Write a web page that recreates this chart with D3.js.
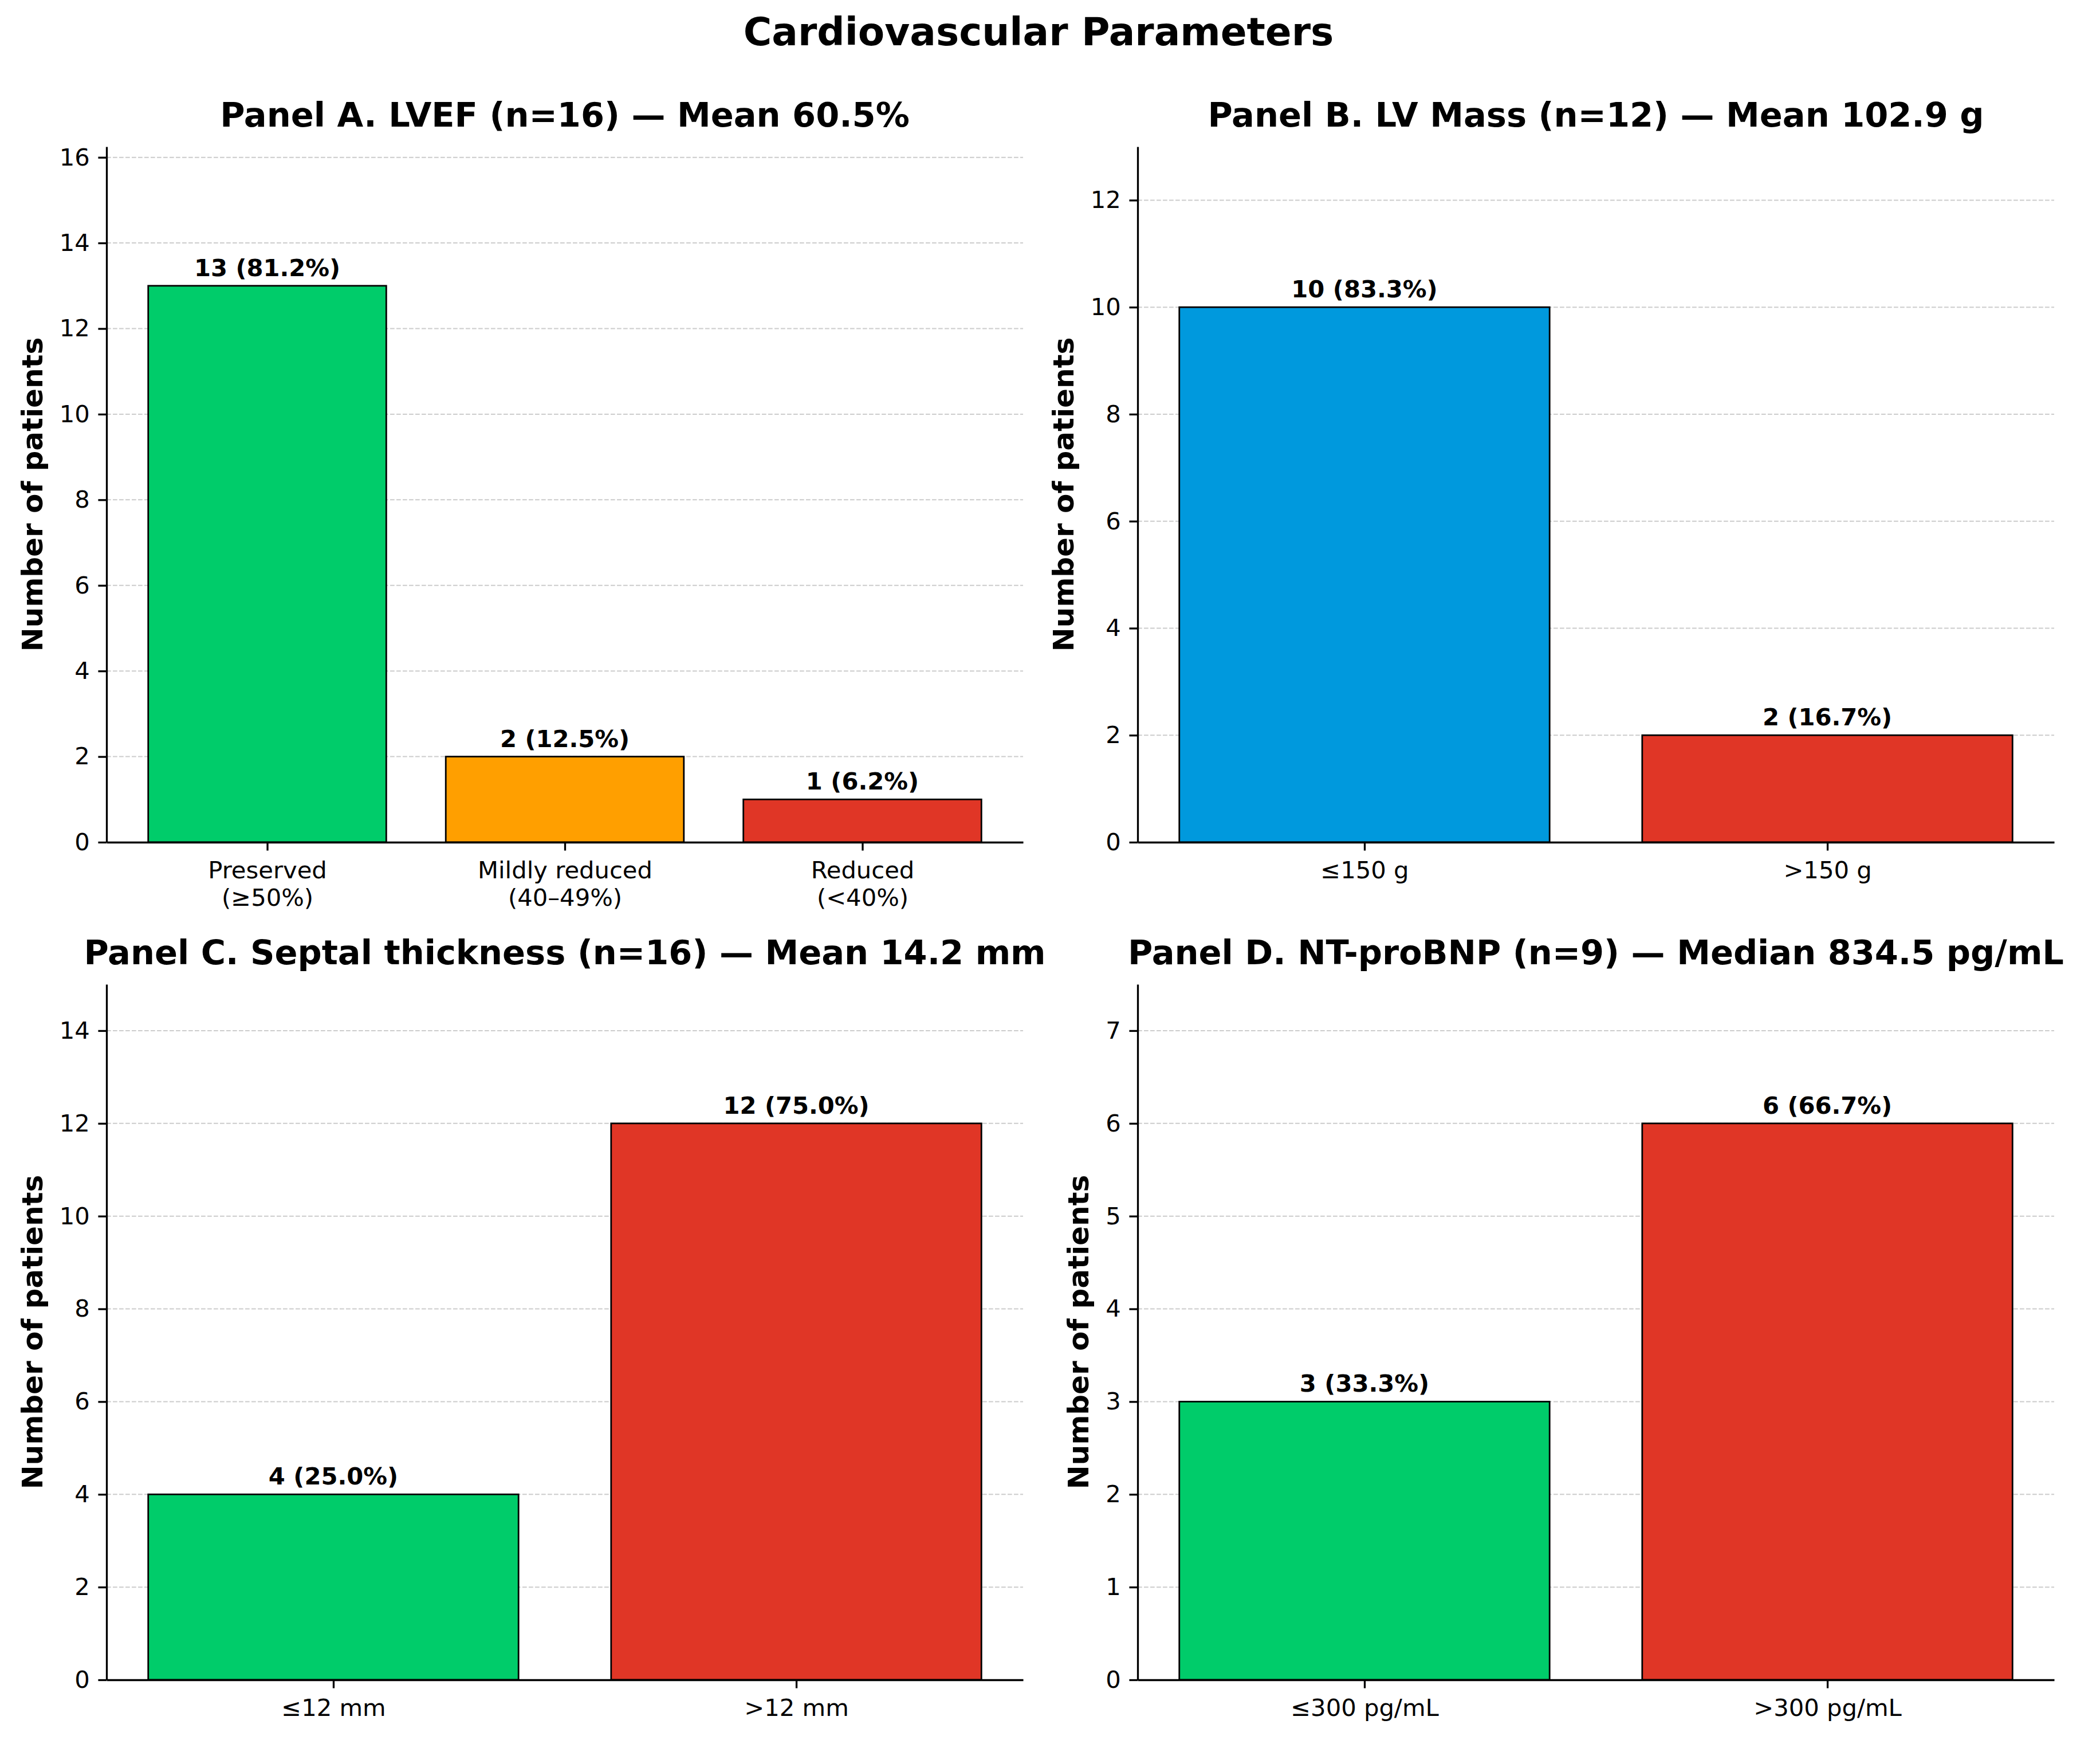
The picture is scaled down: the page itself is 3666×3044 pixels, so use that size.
<!DOCTYPE html>
<html>
<head>
<meta charset="utf-8">
<script src="https://cdn.jsdelivr.net/npm/d3@7"></script>
<style>
  body { margin: 0; background: #fff; }
  text { font-family: "DejaVu Sans", sans-serif; fill: #000; }
</style>
</head>
<body>
<div id="wrapper"></div>
<script>

//..................................................
// 1. data

const figureTitle = "Cardiovascular Parameters"

const panelTitles = [
  "Panel A. LVEF (n=16) — Mean 60.5%",
  "Panel B. LV Mass (n=12) — Mean 102.9 g",
  "Panel C. Septal thickness (n=16) — Mean 14.2 mm",
  "Panel D. NT-proBNP (n=9) — Median 834.5 pg/mL",
]

const lvefCategories = ["Preserved\n(≥50%)", "Mildly reduced\n(40–49%)", "Reduced\n(<40%)"]
const lvefCounts = [13, 2, 1]
const lvefLabels = ["13 (81.2%)", "2 (12.5%)", "1 (6.2%)"]

const massCategories = ["≤150 g", ">150 g"]
const massCounts = [10, 2]
const massLabels = ["10 (83.3%)", "2 (16.7%)"]

const septalCategories = ["≤12 mm", ">12 mm"]
const septalCounts = [4, 12]
const septalLabels = ["4 (25.0%)", "12 (75.0%)"]

const bnpCategories = ["≤300 pg/mL", ">300 pg/mL"]
const bnpCounts = [3, 6]
const bnpLabels = ["3 (33.3%)", "6 (66.7%)"]

// y axis upper limits and tick steps
const yLimits = [16.25, 13, 15, 7.5]
const yTickSteps = [2, 2, 2, 1]

const yAxisTitle = "Number of patients"

//..................................................
// 2. dimensions & styles

const colors = {
  green: "#00cc6a",
  orange: "#ff9f00",
  red: "#e03626",
  blue: "#0099dd",
}

const panels = [
  { categories: lvefCategories, counts: lvefCounts, labels: lvefLabels, fills: [colors.green, colors.orange, colors.red] },
  { categories: massCategories, counts: massCounts, labels: massLabels, fills: [colors.blue, colors.red] },
  { categories: septalCategories, counts: septalCounts, labels: septalLabels, fills: [colors.green, colors.red] },
  { categories: bnpCategories, counts: bnpCounts, labels: bnpLabels, fills: [colors.green, colors.red] },
]

let dimensions = {
  width: 3666,
  height: 3044,
  cols: [186, 1986],
  rows: [256, 1718],
  boundedWidth: 1600,
  boundedHeight: 1214,
}

const tickLen = 14.6
const spineWidth = 3.3

//..................................................
// 3. canvas

const wrapper = d3.select("#wrapper")
  .append("svg")
    .attr("width", dimensions.width)
    .attr("height", dimensions.height)

wrapper.append("rect")
    .attr("width", dimensions.width)
    .attr("height", dimensions.height)
    .attr("fill", "#fff")

wrapper.append("text")
    .attr("x", dimensions.width / 2 - 20)
    .attr("y", 79)
    .attr("text-anchor", "middle")
    .style("font-size", "67.6px")
    .style("font-weight", "bold")
    .text(figureTitle)

//..................................................
// 4. panels

panels.forEach((panel, i) => {
  const left = dimensions.cols[i % 2]
  const top = dimensions.rows[Math.floor(i / 2)]
  const n = panel.counts.length

  const bounds = wrapper.append("g")
      .attr("transform", `translate(${left}, ${top})`)

  // matplotlib style: bars of width 0.8 with a 5% margin either side
  const span = (n - 1) + 0.8
  const xScale = d3.scaleLinear()
    .domain([-0.4 - span * 0.05, n - 1 + 0.4 + span * 0.05])
    .range([0, dimensions.boundedWidth])

  const yScale = d3.scaleLinear()
    .domain([0, yLimits[i]])
    .range([dimensions.boundedHeight, 0])

  const yTicks = d3.range(0, yLimits[i] + 1e-9, yTickSteps[i])

  // grid
  bounds.selectAll(".grid")
    .data(yTicks)
    .enter().append("line")
      .attr("class", "grid")
      .attr("x1", 0)
      .attr("x2", dimensions.boundedWidth)
      .attr("y1", d => yScale(d))
      .attr("y2", d => yScale(d))
      .attr("stroke", "#cccccc")
      .attr("stroke-width", 2)
      .attr("stroke-dasharray", "7.7,3.3")

  // bars
  bounds.selectAll(".bar")
    .data(panel.counts)
    .enter().append("rect")
      .attr("class", "bar")
      .attr("x", (d, j) => xScale(j - 0.4))
      .attr("width", (d, j) => xScale(j + 0.4) - xScale(j - 0.4))
      .attr("y", d => yScale(d))
      .attr("height", d => yScale(0) - yScale(d))
      .attr("fill", (d, j) => panel.fills[j])
      .attr("stroke", "#000")
      .attr("stroke-width", 2.8)

  // value labels
  bounds.selectAll(".value")
    .data(panel.counts)
    .enter().append("text")
      .attr("class", "value")
      .attr("x", (d, j) => xScale(j))
      .attr("y", d => yScale(d) - 17)
      .attr("text-anchor", "middle")
      .style("font-size", "41.7px")
      .style("font-weight", "bold")
      .text((d, j) => panel.labels[j])

  //..................................................
  // peripherals

  const yAxisGenerator = d3.axisLeft(yScale)
    .tickValues(yTicks)
    .tickFormat(d3.format("d"))
    .tickSize(tickLen)
    .tickSizeOuter(0)
    .tickPadding(tickLen)

  const yAxis = bounds.append("g")
    .call(yAxisGenerator)
  yAxis.attr("font-family", null).attr("font-size", null)
  yAxis.selectAll("text").style("font-size", "41.7px")
  yAxis.selectAll("line").attr("stroke-width", spineWidth)
  yAxis.select(".domain").attr("stroke-width", spineWidth)

  const xAxisGenerator = d3.axisBottom(xScale)
    .tickValues(d3.range(n))
    .tickFormat(j => panel.categories[j])
    .tickSize(tickLen)
    .tickSizeOuter(0)
    .tickPadding(tickLen)

  const xAxis = bounds.append("g")
    .attr("transform", `translate(0, ${dimensions.boundedHeight})`)
    .call(xAxisGenerator)
  xAxis.attr("font-family", null).attr("font-size", null)
  xAxis.selectAll("line").attr("stroke-width", spineWidth)
  xAxis.select(".domain").attr("stroke-width", spineWidth)
  xAxis.selectAll("text")
      .style("font-size", "41.7px")
      .attr("dy", null)
      .each(function (d) {
        const lines = panel.categories[d].split("\n")
        const t = d3.select(this).text(null)
        lines.forEach((line, k) => {
          t.append("tspan")
            .attr("x", 0)
            .attr("dy", k === 0 ? "0.81em" : "1.16em")
            .text(line)
        })
      })

  // y axis title, placed left of the tick labels
  const tickBox = yAxis.node().getBBox()
  bounds.append("text")
      .attr("transform", `translate(${tickBox.x - 30}, ${dimensions.boundedHeight / 2}) rotate(-90)`)
      .attr("text-anchor", "middle")
      .style("font-size", "50px")
      .style("font-weight", "bold")
      .text(yAxisTitle)

  // panel title
  bounds.append("text")
      .attr("x", dimensions.boundedWidth / 2)
      .attr("y", -35)
      .attr("text-anchor", "middle")
      .style("font-size", "59px")
      .style("font-weight", "bold")
      .text(panelTitles[i])
})

</script>
</body>
</html>
